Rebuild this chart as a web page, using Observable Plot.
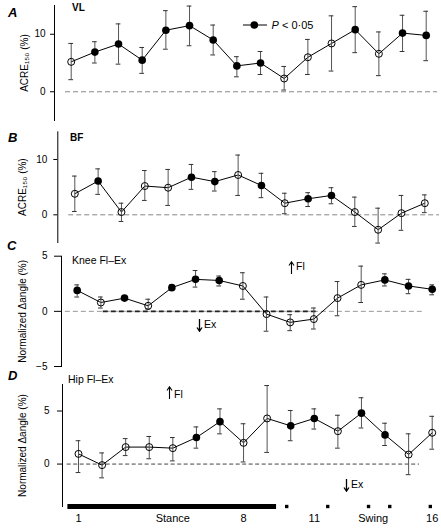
<!DOCTYPE html>
<html>
<head>
<meta charset="utf-8">
<script src="https://cdn.jsdelivr.net/npm/d3@7"></script>
<script src="https://cdn.jsdelivr.net/npm/@observablehq/plot@0.6"></script>
<style>
  html, body { margin: 0; padding: 0; background: #fff; }
  #chart { position: relative; width: 441px; height: 528px; overflow: hidden; font-family: 'Liberation Sans', Arial, sans-serif; color: #000; }
  #chart svg.panel { position: absolute; left: 0; }
  .t { position: absolute; white-space: nowrap; line-height: 1; }
  .letter { font-size: 13px; font-weight: bold; font-style: italic; }
  .name { font-size: 10px; font-weight: bold; }
  .ann { font-size: 10.5px; }
  .arr { vertical-align: middle; margin-right: 1px; }
</style>
</head>
<body>
<div id="chart"></div>
<script>
// ---- data ----
const bins = [1, 2, 3, 4, 5, 6, 7, 8, 9, 10, 11, 12, 13, 14, 15, 16];

const vlMean = [5.2, 6.9, 8.3, 5.5, 10.7, 11.5, 9.0, 4.5, 5.0, 2.3, 6.0, 8.4, 10.8, 6.6, 10.2, 9.8];
const vlHi   = [8.4, 8.7, 11.8, 7.7, 14.1, 14.9, 11.6, 6.1, 7.0, 4.4, 9.1, 13.2, 14.8, 10.4, 13.3, 14.0];
const vlLo   = [2.1, 5.0, 4.8, 3.2, 7.4, 8.0, 6.4, 2.6, 3.0, 0.3, 3.0, 3.6, 6.8, 2.8, 7.0, 5.4];
const vlSig  = [0, 1, 1, 1, 1, 1, 1, 1, 1, 0, 0, 0, 1, 0, 1, 1];

const bfMean = [3.8, 6.1, 0.5, 5.2, 4.9, 6.8, 6.0, 7.2, 5.3, 2.1, 2.9, 3.5, 0.5, -2.7, 0.3, 2.1];
const bfHi   = [7.0, 8.3, 2.1, 8.0, 8.2, 9.1, 7.8, 10.8, 7.5, 3.9, 4.0, 4.9, 3.2, 1.2, 3.5, 3.6];
const bfLo   = [0.6, 3.7, -1.2, 2.6, 1.7, 4.6, 4.3, 3.5, 3.1, 0.2, 1.5, 2.0, -2.1, -5.1, -2.8, 0.4];
const bfSig  = [0, 1, 0, 0, 0, 1, 1, 0, 1, 0, 1, 1, 0, 0, 0, 0];

const kneeMean = [1.9, 0.8, 1.2, 0.5, 2.15, 2.9, 2.8, 2.3, -0.25, -1.0, -0.7, 1.2, 2.4, 2.85, 2.3, 2.0];
const kneeHi   = [2.4, 1.3, 1.4, 1.1, 2.4, 3.7, 3.2, 3.5, 1.3, -0.3, 0.3, 2.7, 4.1, 3.4, 2.9, 2.4];
const kneeLo   = [1.3, 0.3, 1.0, 0.2, 1.9, 2.2, 2.3, 1.1, -1.8, -1.75, -1.6, -0.4, 0.8, 2.3, 1.6, 1.5];
const kneeSig  = [1, 0, 1, 0, 1, 1, 1, 0, 0, 0, 0, 0, 0, 1, 1, 1];

const hipMean = [0.96, -0.1, 1.6, 1.6, 1.5, 2.5, 4.0, 2.0, 4.3, 3.6, 4.3, 3.1, 4.8, 2.75, 0.9, 2.95];
const hipHi   = [2.2, 1.05, 2.4, 2.6, 2.5, 3.5, 5.2, 3.8, 7.4, 5.05, 5.2, 4.6, 6.25, 3.85, 2.85, 4.5];
const hipLo   = [-0.8, -1.3, 0.8, 0.5, 0.3, 1.5, 2.85, 0.2, 1.1, 2.2, 3.3, 1.5, 3.4, 1.75, -1.0, 1.4];
const hipSig  = [0, 0, 0, 0, 0, 1, 1, 0, 0, 1, 1, 0, 1, 1, 0, 0];

const xTickValues = [1, 5, 8, 11, 13.5, 16];
const xTickLabels = ["1", "Stance", "8", "11", "Swing", "16"];
const stanceBar = [0.55, 9.4];
const swingMarks = [9.83, 11.57, 13.3, 14.2, 15.92];

// ---- drawing ----
const FONT = "'Liberation Sans', Arial, sans-serif";
const chart = document.getElementById("chart");
const CAP = 0.1;

function panel(cfg) {
  const rows = bins.map((b, i) => ({x: b, m: cfg.mean[i], hi: cfg.hi[i], lo: cfg.lo[i], sig: cfg.sig[i]}));
  const marks = [
    Plot.frame({anchor: "left", stroke: "#000", strokeWidth: 1}),
    Plot.ruleY([0], {x1: cfg.zero[0], x2: cfg.zero[1], stroke: cfg.zeroColor, strokeWidth: 1, strokeDasharray: cfg.dash}),
    ...(cfg.extra || []),
    Plot.line(rows, {x: "x", y: "m", stroke: "#000", strokeWidth: 1}),
    Plot.ruleX(rows, {x: "x", y1: "lo", y2: "hi", stroke: "#555", strokeWidth: 1}),
    Plot.ruleY(rows, {y: "hi", x1: d => d.x - CAP, x2: d => d.x + CAP, stroke: "#333", strokeWidth: 1}),
    Plot.ruleY(rows, {y: "lo", x1: d => d.x - CAP, x2: d => d.x + CAP, stroke: "#333", strokeWidth: 1}),
    Plot.dot(rows.filter(d => !d.sig), {x: "x", y: "m", r: 3.5, stroke: "#000", fill: "none", strokeWidth: 1}),
    Plot.dot(rows.filter(d => d.sig), {x: "x", y: "m", r: 3.8, fill: "#000", stroke: "none"}),
    Plot.axisY({ticks: cfg.yTicks, tickSize: cfg.tickSize, tickPadding: cfg.tickPad, fontSize: 10,
      label: cfg.label, labelAnchor: "center", labelArrow: "none", labelOffset: cfg.labelOffset})
  ];
  if (cfg.bottom) marks.push(...cfg.bottom);
  const svg = Plot.plot({
    width: 441,
    height: cfg.height,
    marginLeft: cfg.axisX,
    marginRight: 0,
    marginTop: cfg.mt,
    marginBottom: cfg.mb,
    x: {domain: [1, 16], range: [cfg.p1, cfg.p16], axis: null, label: null},
    y: {domain: cfg.yDomain},
    style: {fontFamily: FONT, fontSize: "10px", overflow: "visible", background: "transparent", color: "#000"},
    marks
  });
  svg.classList.add("panel");
  svg.style.top = cfg.top + "px";
  chart.appendChild(svg);
}

// A: VL
panel({top: 0, height: 125, mt: 5, mb: 5, yDomain: [-5, 15], axisX: 54, p1: 70.7, p16: 425.7,
  yTicks: [0, 10], tickSize: 4, tickPad: 5, label: "ACRE₁₅₀ (%)", labelOffset: 34,
  mean: vlMean, hi: vlHi, lo: vlLo, sig: vlSig, zero: [0.76, 16.48], dash: "5,3", zeroColor: "#888"});

// B: BF
panel({top: 122, height: 123, mt: 9.3, mb: 3, yDomain: [-5, 15], axisX: 57.3, p1: 74.3, p16: 424.3,
  yTicks: [0, 10], tickSize: 4, tickPad: 6.5, label: "ACRE₁₅₀ (%)", labelOffset: 39,
  mean: bfMean, hi: bfHi, lo: bfLo, sig: bfSig, zero: [0.74, 16.63], dash: "5,3", zeroColor: "#888"});

// C: Knee
panel({top: 245, height: 130, mt: 10.7, mb: 9, yDomain: [-5, 5], axisX: 61, p1: 76.7, p16: 431.7,
  yTicks: [-5, 0, 5], tickSize: 7, tickPad: 7, label: "Normalized Δangle (%)", labelOffset: 43,
  mean: kneeMean, hi: kneeHi, lo: kneeLo, sig: kneeSig, zero: [0.5, 15.58], dash: "5,3", zeroColor: "#999",
  extra: [Plot.ruleY([0], {x1: 2.1, x2: 11.14, stroke: "#222", strokeWidth: 1.6, strokeDasharray: "5,3"})]});

// D: Hip
const tickLab = new Map(xTickValues.map((v, i) => [v, xTickLabels[i]]));
panel({top: 375, height: 153, mt: 9, mb: 22, yDomain: [-4, 7.5], axisX: 62, p1: 78, p16: 431.7,
  yTicks: [0, 5], tickSize: 5, tickPad: 8, label: "Normalized Δangle (%)", labelOffset: 44,
  mean: hipMean, hi: hipHi, lo: hipLo, sig: hipSig, zero: [0.52, 15.46], dash: "4,2.5", zeroColor: "#444",
  bottom: [
    Plot.ruleY([stanceBar], {x1: d => d[0], x2: d => d[1], y: -4, stroke: "#000", strokeWidth: 5}),
    Plot.dot(swingMarks, {x: d => d, y: -4, symbol: "square", r: 1.9, fill: "#000", stroke: "none"}),
    Plot.axisX({ticks: xTickValues, tickFormat: d => tickLab.get(d), tickSize: 0, tickPadding: 8, fontSize: 11, label: null})
  ]});

// ---- annotations (text) ----
const UP = `<svg class="arr" width="7" height="13" viewBox="0 0 7 13"><path d="M3.5,13V1.2M1,4.5L3.5,0.8L6,4.5" stroke="#000" stroke-width="1.1" fill="none"/></svg>`;
const DOWN = `<svg class="arr" width="7" height="13" viewBox="0 0 7 13"><path d="M3.5,0V11.8M1,8.5L3.5,12.2L6,8.5" stroke="#000" stroke-width="1.3" fill="none"/></svg>`;
function txt(s, left, cy, cls, size) {
  const d = document.createElement("div");
  d.className = "t " + cls;
  d.innerHTML = s;
  d.style.left = left + "px";
  d.style.top = (cy - size / 2) + "px";
  chart.appendChild(d);
}
txt("A", 8, 12, "letter", 13);
txt("VL", 72, 8, "name", 10);
txt("B", 8, 137, "letter", 13);
txt("BF", 70, 138, "name", 10);
txt("C", 7, 245, "letter", 13);
txt("Knee Fl–Ex", 72, 260, "ann", 10.5);
txt(UP + "Fl", 288, 267, "ann", 13);
txt(DOWN + "Ex", 196, 325, "ann", 13);
txt("D", 8, 375, "letter", 13);
txt("Hip Fl–Ex", 68, 379, "ann", 10.5);
txt(UP + "<span style='position:relative;top:3px'>Fl</span>", 166, 392, "ann", 13);
txt(DOWN + "Ex", 343, 485, "ann", 13);

// legend
const ns = "http://www.w3.org/2000/svg";
const lg = document.createElementNS(ns, "svg");
lg.setAttribute("width", 120); lg.setAttribute("height", 16);
lg.style.position = "absolute"; lg.style.left = "240px"; lg.style.top = "17px";
lg.innerHTML = `<line x1="3" x2="27" y1="8" y2="8" stroke="#000" stroke-width="1"/>
<circle cx="14.3" cy="8" r="3.8" fill="#000"/>
<text x="31.5" y="12" font-family="${FONT}" font-size="11"><tspan font-style="italic">P</tspan> &lt; 0·05</text>`;
chart.appendChild(lg);
</script>
</body>
</html>
